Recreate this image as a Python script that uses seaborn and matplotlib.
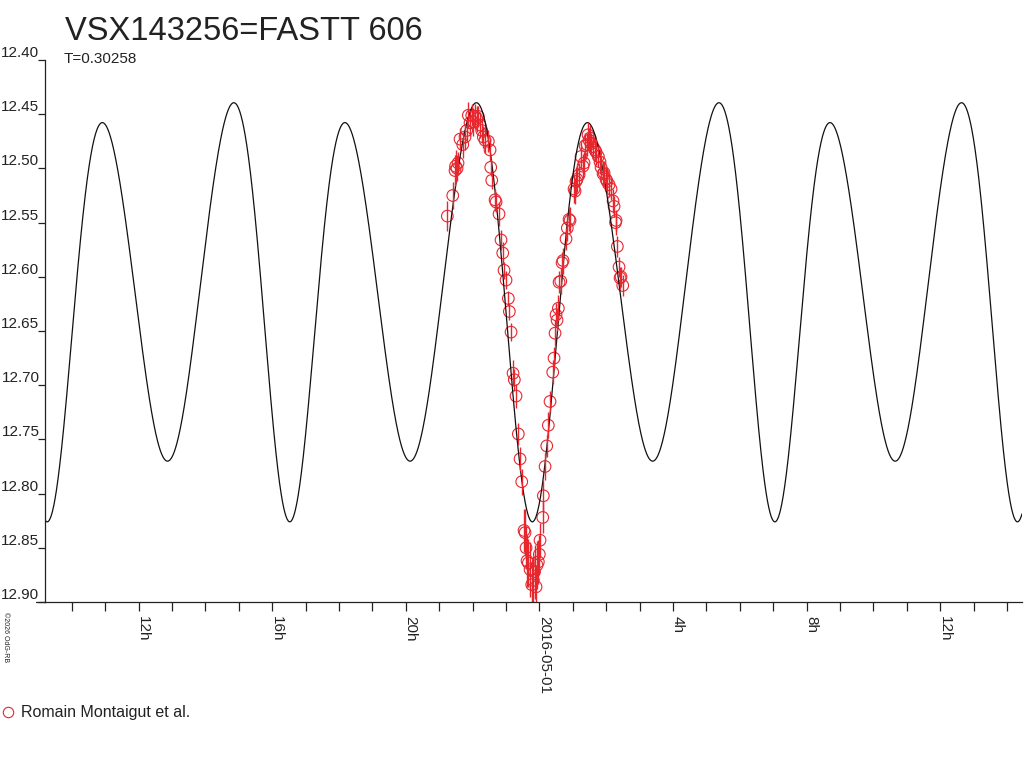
import numpy as np
import pandas as pd
import matplotlib
matplotlib.use('Agg')
import matplotlib.pyplot as plt
import matplotlib.dates as mdates
import matplotlib.transforms as mtransforms
from matplotlib.lines import Line2D
import seaborn as sns

sns.set_theme(style='white')
plt.rcParams['font.family'] = ['Liberation Sans', 'DejaVu Sans']

RED = '#e8262e'
INK = '#222222'

star_name = 'VSX143256=FASTT 606'
period_days = 0.30258
observer = 'Romain Montaigut et al.'
midnight = pd.Timestamp('2016-05-01 00:00')
x_start, x_end = -14.80, 14.45          # hours from midnight
y_ticks = [12.40, 12.45, 12.50, 12.55, 12.60, 12.65, 12.70, 12.75, 12.80, 12.85, 12.90]

# model curve (phase 0 = deeper minimum)
epoch_hours = -0.22
mean_mag = 12.618
cos_terms = [0.001, 0.172, 0.027, 0.008]   # cos(2*pi*k*phase), k = 1..4
sin_terms = [0.00925]                      # sin(2*pi*k*phase)

# observations: hours from 2016-05-01 00:00, magnitude, error
obs_hours = [-2.754, -2.593, -2.524, -2.509, -2.464, -2.434, -2.374, -2.293, -2.225, -2.174,
             -2.126, -2.075, -2.024, -1.985, -1.925, -1.874, -1.826, -1.775, -1.725, -1.677,
             -1.626, -1.527, -1.476, -1.455, -1.425, -1.326, -1.296, -1.207, -1.147, -1.096,
             -1.057, -0.997, -0.928, -0.898, -0.847, -0.787, -0.749, -0.698, -0.629, -0.578,
             -0.527, -0.458, -0.428, -0.398, -0.368, -0.329, -0.278, -0.228, -0.180, -0.144,
             -0.099, -0.069, -0.030, 0.000, 0.021, 0.102, 0.120, 0.171, 0.222, 0.269,
             0.320, 0.401, 0.440, 0.470, 0.500, 0.530, 0.569, 0.590, 0.641, 0.680,
             0.710, 0.799, 0.838, 0.889, 0.919, 1.039, 1.069, 1.099, 1.129, 1.189,
             1.249, 1.308, 1.338, 1.368, 1.428, 1.458, 1.488, 1.518, 1.548, 1.608,
             1.668, 1.698, 1.766, 1.817, 1.847, 1.907, 1.937, 1.997, 2.027, 2.087,
             2.147, 2.207, 2.237, 2.281, 2.296, 2.335, 2.386, 2.416, 2.446, 2.497]
obs_mag = [12.544, 12.525, 12.502, 12.498, 12.500, 12.495, 12.473, 12.478, 12.471, 12.465,
           12.451, 12.458, 12.451, 12.457, 12.452, 12.454, 12.452, 12.460, 12.465, 12.471,
           12.474, 12.475, 12.483, 12.499, 12.511, 12.529, 12.531, 12.542, 12.566, 12.578,
           12.594, 12.603, 12.620, 12.632, 12.651, 12.689, 12.695, 12.710, 12.745, 12.768,
           12.789, 12.834, 12.836, 12.850, 12.862, 12.864, 12.870, 12.884, 12.880, 12.872,
           12.886, 12.866, 12.863, 12.856, 12.843, 12.822, 12.802, 12.775, 12.756, 12.737,
           12.715, 12.688, 12.675, 12.652, 12.635, 12.640, 12.629, 12.605, 12.604, 12.587,
           12.585, 12.565, 12.555, 12.547, 12.548, 12.519, 12.521, 12.512, 12.510, 12.506,
           12.489, 12.498, 12.495, 12.479, 12.478, 12.469, 12.474, 12.472, 12.477, 12.480,
           12.483, 12.485, 12.489, 12.494, 12.499, 12.505, 12.504, 12.510, 12.512, 12.515,
           12.519, 12.530, 12.535, 12.550, 12.548, 12.572, 12.591, 12.601, 12.600, 12.608]
obs_err = [0.014, 0.012, 0.014, 0.015, 0.012, 0.010, 0.010, 0.012, 0.012, 0.011,
           0.012, 0.012, 0.010, 0.013, 0.011, 0.012, 0.010, 0.012, 0.011, 0.010,
           0.012, 0.010, 0.010, 0.008, 0.008, 0.010, 0.009, 0.011, 0.009, 0.010,
           0.008, 0.008, 0.007, 0.008, 0.008, 0.012, 0.010, 0.011, 0.010, 0.011,
           0.012, 0.020, 0.022, 0.020, 0.024, 0.022, 0.025, 0.020, 0.022, 0.025,
           0.020, 0.022, 0.020, 0.018, 0.016, 0.014, 0.015, 0.012, 0.010, 0.012,
           0.010, 0.011, 0.010, 0.012, 0.011, 0.010, 0.012, 0.010, 0.012, 0.010,
           0.012, 0.010, 0.012, 0.011, 0.012, 0.013, 0.012, 0.013, 0.012, 0.011,
           0.012, 0.011, 0.010, 0.012, 0.011, 0.012, 0.011, 0.012, 0.010, 0.011,
           0.010, 0.012, 0.010, 0.011, 0.010, 0.012, 0.011, 0.010, 0.012, 0.011,
           0.010, 0.011, 0.010, 0.011, 0.010, 0.010, 0.009, 0.010, 0.009, 0.010]

# model light curve over the plotted window
hours = np.linspace(x_start, x_end, 3000)
phase = (hours - epoch_hours) / (period_days * 24)
model_mag = np.full_like(hours, mean_mag)
for k, a in enumerate(cos_terms, start=1):
    model_mag += a * np.cos(2 * np.pi * k * phase)
for k, b in enumerate(sin_terms, start=1):
    model_mag += b * np.sin(2 * np.pi * k * phase)
model = pd.DataFrame({'time': midnight + pd.to_timedelta(hours, unit='h'), 'mag': model_mag})

obs = pd.DataFrame({'time': midnight + pd.to_timedelta(obs_hours, unit='h'),
                    'mag': obs_mag, 'err': obs_err})

fig = plt.figure(figsize=(10.24, 7.68), dpi=100)
ax = fig.add_axes([45 / 1024, 1 - 602 / 768, 977 / 1024, 542 / 768])

sns.lineplot(data=model, x='time', y='mag', estimator=None, sort=False,
             color='#111111', linewidth=0.9, ax=ax)
ax.errorbar(obs['time'], obs['mag'], yerr=obs['err'], fmt='none',
            ecolor=RED, elinewidth=1.0, capsize=0)
sns.scatterplot(data=obs, x='time', y='mag', marker='o', s=70,
                facecolor='none', edgecolor=RED, linewidth=0.8, ax=ax)

ax.set_xlim(midnight + pd.Timedelta(hours=x_start), midnight + pd.Timedelta(hours=x_end))
ax.set_ylim(12.90, 12.40)
ax.set_yticks(y_ticks)
ax.set_yticklabels([f'{v:.2f}' for v in y_ticks])
ax.set_xlabel('')
ax.set_ylabel('')

ax.xaxis.set_major_locator(mdates.HourLocator(byhour=[0, 4, 8, 12, 16, 20]))
ax.xaxis.set_minor_locator(mdates.HourLocator())


def hour_label(val, pos=None):
    d = mdates.num2date(val)
    if d.hour == 0:
        return d.strftime('%Y-%m-%d')
    return f'{d.hour}h'


ax.xaxis.set_major_formatter(plt.FuncFormatter(hour_label))

sns.despine(ax=ax)
for side in ['left', 'bottom']:
    ax.spines[side].set_color(INK)
    ax.spines[side].set_linewidth(0.9)

ax.tick_params(axis='both', which='both', bottom=True, left=True, direction='out',
               color=INK, width=0.9, labelcolor=INK, labelsize=11)
ax.tick_params(axis='x', which='both', length=6.5, pad=3.5)
ax.tick_params(axis='y', length=5, pad=-1)
plt.setp(ax.get_xticklabels(), rotation=-90, ha='center', va='top')
plt.setp(ax.get_yticklabels(), va='bottom')

# hour labels sit just to the right of their tick
shift = mtransforms.ScaledTranslation(0.045, 0, fig.dpi_scale_trans)
for lab in ax.get_xticklabels():
    lab.set_transform(lab.get_transform() + shift)

# bottom axis line runs a little past the left axis
fig.add_artist(Line2D([36 / 1024, 45 / 1024], [1 - 602 / 768, 1 - 602 / 768],
                      color=INK, linewidth=0.9))

fig.text(65 / 1024, 1 - 40 / 768, star_name, fontsize=23.5, color=INK, va='baseline')
fig.text(64 / 1024, 1 - 63 / 768, f'T={period_days}', fontsize=11, color=INK, va='baseline')
fig.text(5 / 1024, 1 - 612 / 768, '©2026 OdG-RB', fontsize=5, color=INK,
         rotation=-90, ha='center', va='top')

handle = Line2D([], [], marker='o', linestyle='none', markerfacecolor='none',
                markeredgecolor=RED, markersize=7.5, markeredgewidth=0.8)
fig.legend(handles=[handle], labels=[observer], loc='center left',
           bbox_to_anchor=(0.0, 1 - 713 / 768), frameon=False, fontsize=11.5,
           handlelength=1.0, handletextpad=0.3, borderpad=0, borderaxespad=0,
           labelcolor=INK)

fig.savefig('out.png', dpi=100)
